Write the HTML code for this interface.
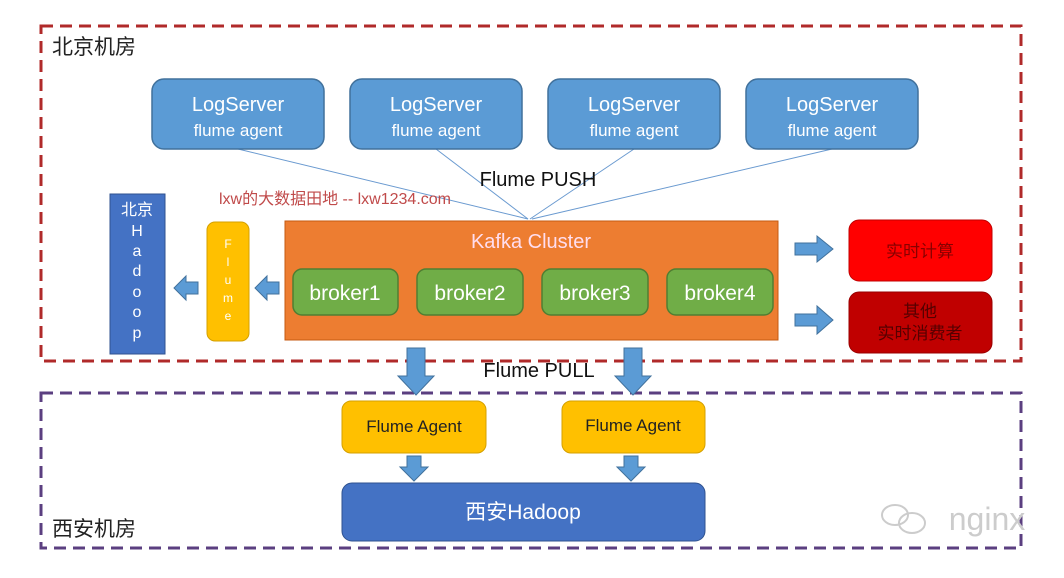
<!DOCTYPE html>
<html><head><meta charset="utf-8"><style>
html,body{margin:0;padding:0;background:#fff;}
svg text{font-family:"Liberation Sans","Noto Sans CJK SC",sans-serif;}
</style></head><body>
<svg width="1064" height="573" viewBox="0 0 1064 573" xmlns="http://www.w3.org/2000/svg">
<rect x="0" y="0" width="1064" height="573" fill="#fff"/>
<rect x="41" y="26" width="980" height="335" fill="none" stroke="#b02a2a" stroke-width="3" stroke-dasharray="12,7"/>
<rect x="41" y="393" width="980" height="155" fill="none" stroke="#5b3f80" stroke-width="3" stroke-dasharray="12,7"/>
<text x="52" y="54" font-size="21" fill="#222">北京机房</text>
<text x="52" y="536" font-size="21" fill="#222">西安机房</text>
<g stroke="#6a9ad0" stroke-width="1">
<line x1="238" y1="149" x2="528" y2="219"/>
<line x1="436" y1="149" x2="528" y2="219"/>
<line x1="634" y1="149" x2="530" y2="219"/>
<line x1="832" y1="149" x2="532" y2="219"/>
</g>
<g font-size="20" text-anchor="middle">
<g fill="#5b9bd5" stroke="#41719c" stroke-width="1.5">
<rect x="152" y="79" width="172" height="70" rx="12"/>
<rect x="350" y="79" width="172" height="70" rx="12"/>
<rect x="548" y="79" width="172" height="70" rx="12"/>
<rect x="746" y="79" width="172" height="70" rx="12"/>
</g>
<g fill="#fff"><text x="238" y="111">LogServer</text><text x="436" y="111">LogServer</text><text x="634" y="111">LogServer</text><text x="832" y="111">LogServer</text></g>
<g fill="#fff" font-size="17"><text x="238" y="136">flume agent</text><text x="436" y="136">flume agent</text><text x="634" y="136">flume agent</text><text x="832" y="136">flume agent</text></g>
<text x="538" y="186" fill="#111">Flume PUSH</text>
<text x="335" y="204" fill="#c04a4a" font-size="16">lxw的大数据田地 -- lxw1234.com</text>
<rect x="285" y="221" width="493" height="119" fill="#ed7d31" stroke="#c55a11" stroke-width="1"/>
<text x="531" y="248" fill="#fde" font-size="20">Kafka Cluster</text>
<g fill="#70ad47" stroke="#507e32" stroke-width="1.5">
<rect x="293" y="269" width="105" height="46" rx="9"/>
<rect x="417" y="269" width="106" height="46" rx="9"/>
<rect x="542" y="269" width="106" height="46" rx="9"/>
<rect x="667" y="269" width="106" height="46" rx="9"/>
</g>
<g fill="#fff" font-size="21"><text x="345" y="300">broker1</text><text x="470" y="300">broker2</text><text x="595" y="300">broker3</text><text x="720" y="300">broker4</text></g>
<rect x="207" y="222" width="42" height="119" rx="8" fill="#ffc000" stroke="#d4a000"/>
<g fill="#fff" font-size="12"><text x="228" y="248">F</text><text x="228" y="266">l</text><text x="228" y="284">u</text><text x="228" y="302">m</text><text x="228" y="320">e</text></g>
<rect x="110" y="194" width="55" height="160" fill="#4472c4" stroke="#2f528f"/>
<g fill="#fff" font-size="16"><text x="137" y="215">北京</text><text x="137" y="236">H</text><text x="137" y="256">a</text><text x="137" y="276">d</text><text x="137" y="297">o</text><text x="137" y="317">o</text><text x="137" y="338">p</text></g>
<g fill="#5b9bd5" stroke="#41719c" stroke-width="1">
<polygon points="279,282 267,282 267,276 255,288 267,300 267,294 279,294"/>
<polygon points="198,282 186,282 186,276 174,288 186,300 186,294 198,294"/>
<polygon points="795,243 817,243 817,236 833,249 817,262 817,255 795,255"/>
<polygon points="795,314 817,314 817,306 833,320 817,334 817,326 795,326"/>
<polygon points="407,348 425,348 425,376 434,376 416,395 398,376 407,376"/>
<polygon points="624,348 642,348 642,376 651,376 633,395 615,376 624,376"/>
<polygon points="407,456 421,456 421,467 428,467 414,481 400,467 407,467"/>
<polygon points="624,456 638,456 638,467 645,467 631,481 617,467 624,467"/>
</g>
<rect x="849" y="220" width="143" height="61" rx="10" fill="#ff0000" stroke="#c00000"/>
<text x="920" y="257" fill="#800" font-size="17">实时计算</text>
<rect x="849" y="292" width="143" height="61" rx="10" fill="#c00000" stroke="#900"/>
<text x="920" y="317" fill="#500" font-size="17">其他</text>
<text x="920" y="339" fill="#500" font-size="17">实时消费者</text>
<text x="539" y="377" fill="#111">Flume PULL</text>
<g fill="#ffc000" stroke="#d4a000">
<rect x="342" y="401" width="144" height="52" rx="9"/>
<rect x="562" y="401" width="143" height="52" rx="9"/>
</g>
<g fill="#222" font-size="17"><text x="414" y="432">Flume Agent</text><text x="633" y="431">Flume Agent</text></g>
<rect x="342" y="483" width="363" height="58" rx="10" fill="#4472c4" stroke="#2f528f"/>
<text x="523" y="519" fill="#fff" font-size="21">西安Hadoop</text>
<text x="987" y="530" fill="#ccc" font-size="32">nginx</text>
</g>
<g fill="none" stroke="#ccc" stroke-width="2"><ellipse cx="895" cy="515" rx="13" ry="10"/><ellipse cx="912" cy="523" rx="13" ry="10"/></g>
</svg>
</body></html>
